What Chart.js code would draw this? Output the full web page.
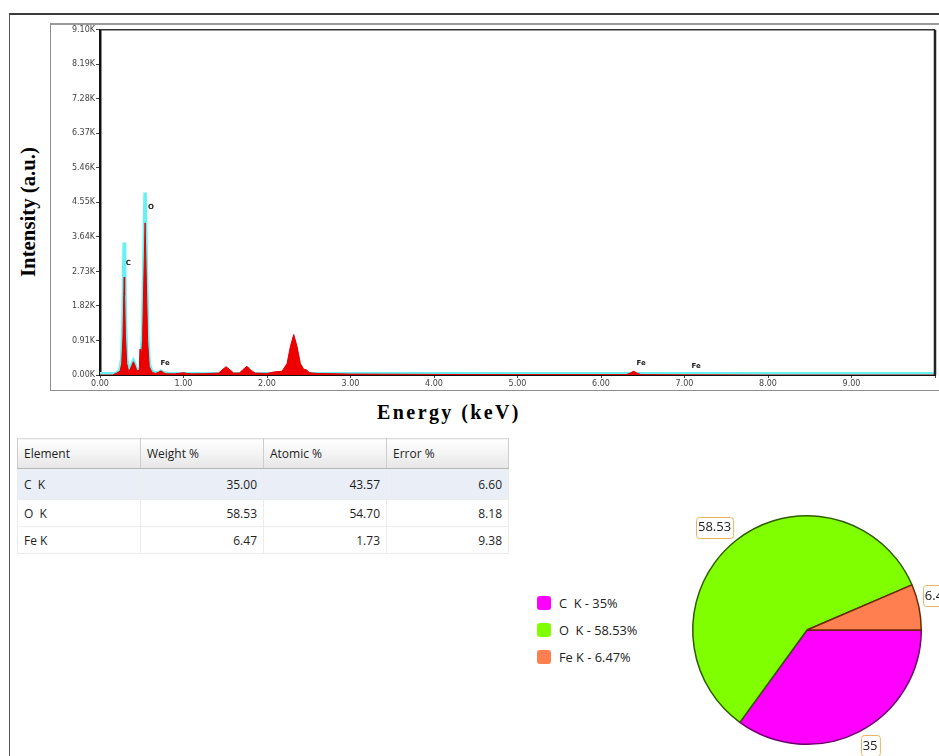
<!DOCTYPE html>
<html><head><meta charset="utf-8">
<script src="https://cdn.jsdelivr.net/npm/chart.js@4.4.1/dist/chart.umd.min.js"></script>
<style>
html,body{margin:0;padding:0;width:939px;height:756px;overflow:hidden;background:#fff;}
.abs{position:absolute;}
#frame{left:9px;top:13px;width:960px;height:780px;border-top:2px solid #3c3c3c;border-left:1.5px solid #555;}
#panel{left:50px;top:23px;width:920px;height:365px;border:1px solid #8e8e8e;border-top:2px solid #9a9a9a;}
#specWrap{left:51px;top:24px;}
#ytitle{left:-72px;top:200px;width:200px;height:24px;line-height:24px;text-align:center;transform:rotate(-90deg);font-family:'Liberation Serif',serif;font-weight:bold;font-size:20.8px;color:#000;}
#xtitle{left:329px;top:400px;width:240px;height:24px;line-height:24px;text-align:center;font-family:'Liberation Serif',serif;font-weight:bold;font-size:20px;letter-spacing:2.4px;color:#000;}
#tbl{position:absolute;left:17px;top:438px;border-collapse:collapse;table-layout:fixed;width:491px;font-family:'Open Sans',sans-serif;font-size:12px;color:#1e1e1e;}
#tbl th{height:29px;font-weight:normal;text-align:left;padding:0 0 0 6px;background:linear-gradient(#ffffff,#f3f3f3 50%,#e6e6e6);border-right:1px solid #cdcdcd;border-left:1px solid #cdcdcd;border-bottom:1px solid #b8b8b8;border-top:1px solid #dcdcdc;}
#tbl td{height:26px;padding:0 6px;border-right:1px solid #ececec;border-left:1px solid #ececec;border-bottom:1px solid #ececec;text-align:right;white-space:pre;}
#tbl td.el{text-align:left;}
#tbl tr.sel td{background:#e9eef7;height:30px;}
#legend{left:537px;top:594px;font-family:'Open Sans',sans-serif;font-size:12.8px;color:#222;}
#legend .it{position:relative;height:27px;white-space:pre;}
#legend .sw{position:absolute;left:0;top:2px;width:14px;height:14px;border-radius:3px;}
#legend .tx{position:absolute;left:22px;top:0px;line-height:18px;}
#pieWrap{left:660px;top:490px;}
</style></head>
<body>
<div id="frame" class="abs"></div>
<div id="panel" class="abs"></div>
<div id="specWrap" class="abs"><canvas id="spec" width="888" height="366"></canvas></div>
<div id="ytitle" class="abs">Intensity (a.u.)</div>
<div id="xtitle" class="abs">Energy (keV)</div>
<table id="tbl"></table>
<div id="legend" class="abs"></div>
<div id="pieWrap" class="abs"><canvas id="pie" width="300" height="280"></canvas></div>
<script>
// ---- spectrum data ----
const energyKeV = [0.00,0.15,0.20,0.24,0.26,0.275,0.285,0.29,0.295,0.305,0.32,0.34,0.36,0.38,0.40,0.42,0.44,0.46,0.47,0.48,0.485,0.49,0.51,0.525,0.54,0.555,0.57,0.59,0.62,0.66,0.70,0.73,0.76,0.80,0.90,1.00,1.04,1.10,1.25,1.42,1.46,1.51,1.56,1.60,1.67,1.71,1.76,1.81,1.86,2.00,2.08,2.18,2.24,2.28,2.32,2.36,2.40,2.44,2.47,2.51,2.60,3.00,4.00,5.00,6.30,6.35,6.39,6.43,6.48,7.00,8.00,10.00];
const spectrumCounts = [0,0,50,100,300,1000,2100,2580,2100,1000,300,120,140,250,350,250,120,110,150,680,200,240,900,2500,4010,2500,900,220,80,40,70,110,60,30,30,60,40,30,35,50,130,220,130,50,50,140,230,120,50,40,80,100,300,750,1070,750,300,150,140,60,40,25,15,10,10,50,100,50,10,5,0,0];
const fitCounts = [30,30,40,140,420,1400,2900,3490,2900,1400,420,150,150,270,370,270,140,120,120,130,150,300,1100,3000,4810,3000,1100,280,100,50,70,100,60,40,35,35,35,35,35,35,35,35,35,35,35,35,35,35,35,35,35,35,35,35,35,35,35,35,35,35,35,30,30,30,30,35,40,35,30,30,30,30];
const yTickStepCounts = 910;
const yMaxCounts = 9100;
const xMaxKeV = 10;
const peakLabelText = ['C','O','Fe','Fe','Fe'];
const peakLabelKeV = [0.34,0.61,0.78,6.48,7.14];
const peakLabelCounts = [2940,4430,310,310,240];

// ---- quantification data ----
const elementLabels = ['C  K','O  K','Fe K'];
const weightPct = [35.00,58.53,6.47];
const atomicPct = [43.57,54.70,1.73];
const errorPct = [6.60,8.18,9.38];
const tableHeaders = ['Element','Weight %','Atomic %','Error %'];
const sliceColors = ['#ff00ff','#80ff00','#ff7f50'];
const sliceBorders = ['#6a006a','#2f5a00','#6a2a00'];

// ---- table ----
const tbl = document.getElementById('tbl');
let html = '<colgroup><col style="width:123px"><col style="width:123px"><col style="width:123px"><col style="width:122px"></colgroup><tr>';
tableHeaders.forEach(h => html += '<th>' + h + '</th>');
html += '</tr>';
elementLabels.forEach((el, i) => {
  html += '<tr' + (i === 0 ? ' class="sel"' : '') + '><td class="el">' + el + '</td><td>' + weightPct[i].toFixed(2) + '</td><td>' + atomicPct[i].toFixed(2) + '</td><td>' + errorPct[i].toFixed(2) + '</td></tr>';
});
tbl.innerHTML = html;

// ---- legend ----
const lg = document.getElementById('legend');
elementLabels.forEach((el, i) => {
  const d = document.createElement('div');
  d.className = 'it';
  d.innerHTML = '<span class="sw" style="background:' + sliceColors[i] + '"></span><span class="tx">' + el + ' - ' + String(weightPct[i]) + '%</span>';
  lg.appendChild(d);
});

// ---- spectrum chart ----
const framePlugin = {
  id: 'frame',
  afterDatasetsDraw(chart) {
    const {ctx, chartArea: a, scales} = chart;
    ctx.save();
    ctx.strokeStyle = '#333';
    ctx.lineWidth = 1.5;
    ctx.beginPath(); ctx.moveTo(a.left, a.top); ctx.lineTo(a.right, a.top); ctx.stroke();
    ctx.strokeStyle = '#222';
    ctx.lineWidth = 2.5;
    ctx.beginPath(); ctx.moveTo(a.right, a.top); ctx.lineTo(a.right, a.bottom); ctx.stroke();
    ctx.fillStyle = '#222';
    ctx.font = 'bold 7px "DejaVu Sans"';
    ctx.textAlign = 'center';
    ctx.textBaseline = 'middle';
    peakLabelText.forEach((t, i) => {
      ctx.fillText(t, scales.x.getPixelForValue(peakLabelKeV[i]), scales.y.getPixelForValue(peakLabelCounts[i]));
    });
    ctx.restore();
  }
};

new Chart(document.getElementById('spec'), {
  type: 'line',
  data: {
    datasets: [
      {
        label: 'Spectrum',
        data: energyKeV.map((e, i) => ({x: e, y: spectrumCounts[i]})),
        borderColor: '#e00000',
        backgroundColor: '#ee0000',
        borderWidth: 1,
        fill: 'origin',
        pointRadius: 0,
        tension: 0
      },
      {
        label: 'Fit',
        data: energyKeV.map((e, i) => ({x: e, y: fitCounts[i]})),
        borderColor: '#66f2f2',
        borderWidth: 3.5,
        fill: false,
        pointRadius: 0,
        tension: 0
      }
    ]
  },
  options: {
    responsive: false,
    animation: false,
    devicePixelRatio: 1,
    layout: {padding: {top: 4, right: 4, left: 0, bottom: 0}},
    plugins: {legend: {display: false}, tooltip: {enabled: false}},
    scales: {
      x: {
        type: 'linear', min: 0, max: xMaxKeV,
        ticks: {stepSize: 1, autoSkip: false, maxRotation: 0, padding: 1,
          callback: v => v === xMaxKeV ? '' : Number(v).toFixed(2),
          font: {family: 'DejaVu Sans', size: 8}, color: '#444'},
        grid: {drawOnChartArea: false, tickLength: 3, color: '#444'},
        border: {color: '#111', width: 2},
        afterFit: s => { s.height = 15; }
      },
      y: {
        min: 0, max: yMaxCounts,
        ticks: {stepSize: yTickStepCounts, padding: 1,
          callback: v => (v / 1000).toFixed(2) + 'K',
          font: {family: 'DejaVu Sans', size: 8}, color: '#444'},
        grid: {drawOnChartArea: false, tickLength: 4, color: '#444'},
        border: {color: '#111', width: 2.5},
        afterFit: s => { s.width = 49; }
      }
    }
  },
  plugins: [framePlugin]
});

// ---- pie chart ----
const pieLabelPlugin = {
  id: 'pieLabels',
  afterDatasetsDraw(chart) {
    const {ctx} = chart;
    const meta = chart.getDatasetMeta(0);
    ctx.save();
    ctx.font = '13px "Open Sans"';
    ctx.textAlign = 'center';
    ctx.textBaseline = 'middle';
    meta.data.forEach((arc, i) => {
      const p = arc.getProps(['x', 'y', 'startAngle', 'endAngle', 'outerRadius'], true);
      const mid = (p.startAngle + p.endAngle) / 2;
      const r = p.outerRadius + 4;
      const px = p.x + Math.cos(mid) * r;
      const py = p.y + Math.sin(mid) * r;
      const txt = String(chart.data.datasets[0].data[i]);
      const w = ctx.measureText(txt).width + 4;
      const h = 21;
      const cx = px + Math.sign(Math.cos(mid)) * w / 2;
      const cy = py + Math.sign(Math.sin(mid)) * h / 2;
      ctx.beginPath();
      ctx.roundRect(Math.round(cx - w / 2) + 0.5, Math.round(cy - h / 2) + 0.5, w, h, 3);
      ctx.fillStyle = '#fff';
      ctx.fill();
      ctx.strokeStyle = '#e8b462';
      ctx.lineWidth = 1;
      ctx.stroke();
      ctx.fillStyle = '#222';
      ctx.fillText(txt, cx, cy + 0.5);
    });
    ctx.restore();
  }
};

new Chart(document.getElementById('pie'), {
  type: 'pie',
  data: {
    labels: elementLabels,
    datasets: [{
      data: weightPct,
      backgroundColor: sliceColors,
      borderColor: sliceBorders,
      borderWidth: 1.5
    }]
  },
  options: {
    responsive: false,
    animation: false,
    devicePixelRatio: 1,
    rotation: 90,
    layout: {padding: {left: 32, right: 38, top: 25, bottom: 25}},
    plugins: {legend: {display: false}, tooltip: {enabled: false}}
  },
  plugins: [pieLabelPlugin]
});
</script>
</body></html>
